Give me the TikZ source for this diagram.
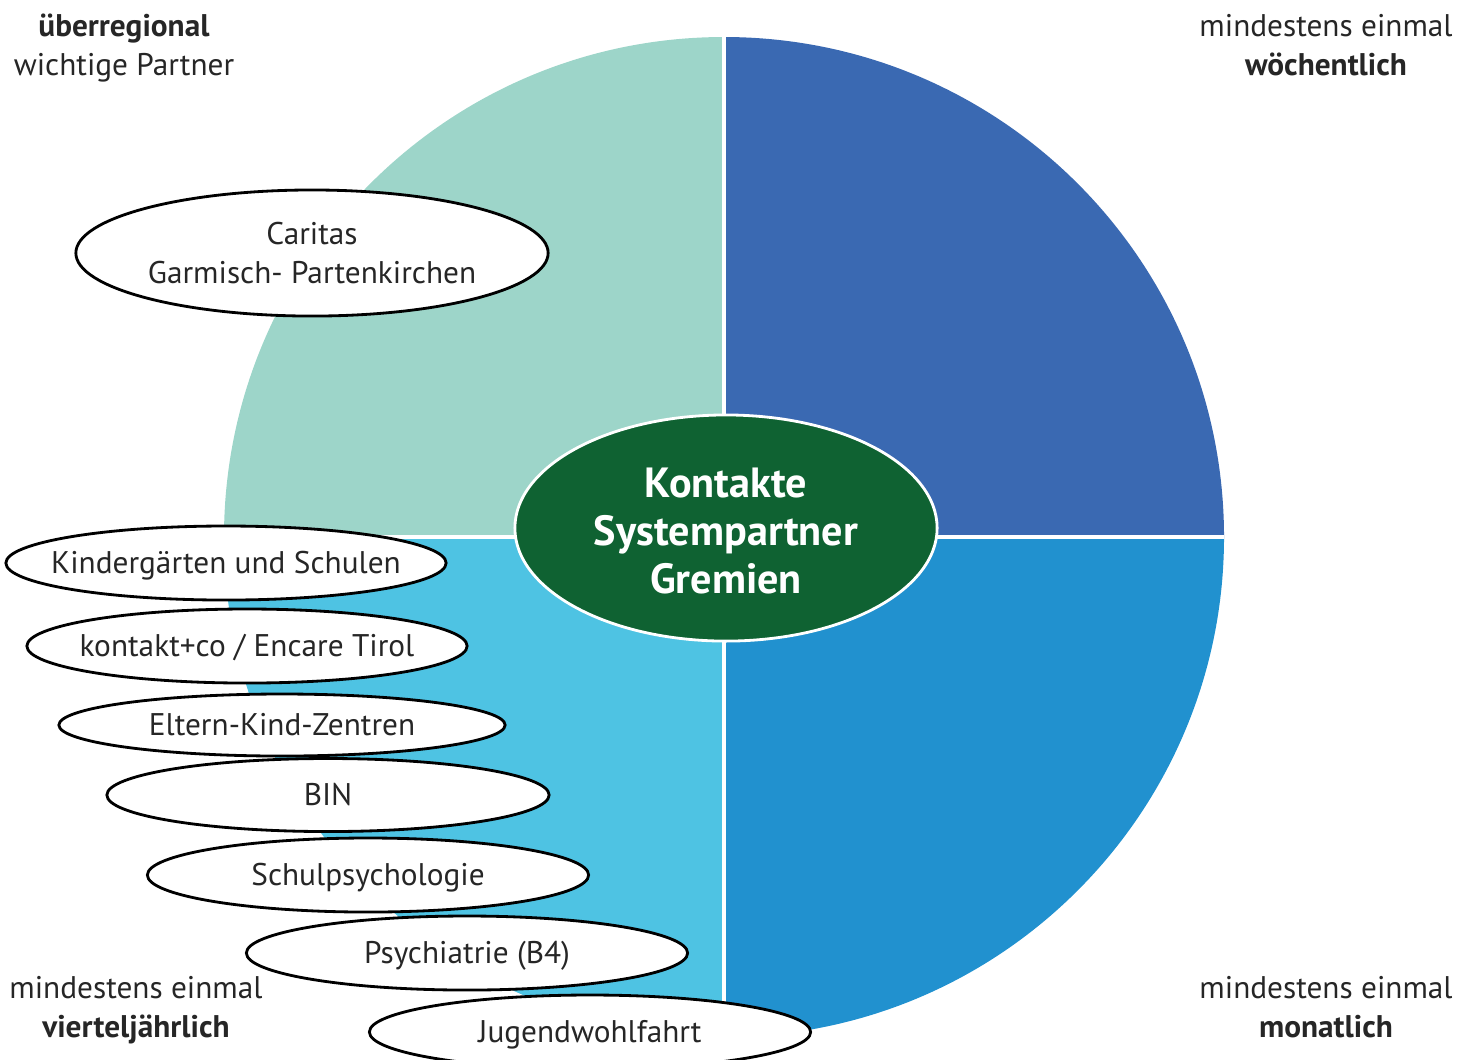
\documentclass[tikz,border=0pt]{standalone}
\usepackage{fontspec}
\setmainfont{PT Sans}
\usepackage{tikz}
\usetikzlibrary{shapes.geometric}
\definecolor{tealq}{HTML}{9DD5C9}
\definecolor{darkq}{HTML}{3A69B2}
\definecolor{midq}{HTML}{2191CF}
\definecolor{lightq}{HTML}{4EC3E3}
\definecolor{kerngreen}{HTML}{0F6232}
% zero width line, so the ellipse keeps its own size
\newcommand{\zl}[1]{\makebox[0pt]{#1}}
\newcommand{\zd}[1]{\makebox[0pt]{\raisebox{-0.105cm}[0pt][0pt]{#1}}}
\newcommand{\zk}[1]{\makebox[0pt]{\raisebox{-0.175cm}[0pt][0pt]{#1}}}
\tikzset{
    %Define style for the partner ellipses
    partner/.style={
           ellipse,
           draw=black, line width=0.8pt,
           fill=white,
           inner sep=0pt,
           minimum width=4.41cm,
           minimum height=0.74cm,
           font=\fontsize{8.9pt}{11.1pt}\selectfont,
           text=black!85,
           align=center},
    %Define style for the centre
    kern/.style={
           ellipse,
           draw=white, line width=0.8pt,
           fill=kerngreen,
           inner sep=0pt,
           minimum width=4.22cm,
           minimum height=2.26cm,
           font=\fontsize{12pt}{13.7pt}\selectfont\bfseries,
           text=white,
           align=center},
    %Define style for corner labels
    corner/.style={
           font=\fontsize{8.9pt}{11.1pt}\selectfont,
           text=black!85,
           align=center},
    % Define separator style
    sep/.style={
           white,
           line width=1pt}
}
\begin{document}
\begin{tikzpicture}[x=0.01cm,y=0.01cm]
\useasboundingbox (0,0) rectangle (1471,-1059);
\clip (0,0) rectangle (1471,-1059);
\coordinate (c) at (724,-537);
 %quadrants
\fill[tealq] (c) -- ++(180:500) arc (180:90:500) -- cycle;
\fill[darkq] (c) -- ++(90:500) arc (90:0:500) -- cycle;
\fill[midq] (c) -- ++(0:500) arc (0:-90:500) -- cycle;
\fill[lightq] (c) -- ++(-90:500) arc (-90:-180:500) -- cycle;
\coordinate (l) at (224,-537);
\coordinate (r) at (1224,-537);
\coordinate (t) at (724,-37);
\coordinate (b) at (724,-1037);
\draw[sep] (l) -- (r);
\draw[sep] (t) -- (b);

 %nodes
\node[kern] (kern) at (726,-528) {\zk{Kontakte}\\\zk{Systempartner}\\\zk{Gremien}};
\node[partner, minimum width=4.72cm, minimum height=1.26cm] (caritas) at (312,-253) {\zl{Caritas}\\\zl{Garmisch- Partenkirchen}};
\node[partner, minimum width=4.40cm] (kiga) at (226,-563) {\zd{Kindergärten und Schulen}};
\node[partner, minimum width=4.40cm] (kontakt) at (247,-646) {\zd{kontakt+co / Encare Tirol}};
\node[partner, minimum width=4.46cm, minimum height=0.62cm] (ekiz) at (282,-725) {\zd{Eltern-Kind-Zentren}};
\node[partner, minimum width=4.42cm, minimum height=0.73cm] (bin) at (328,-795) {\zd{BIN}};
\node[partner] (schulpsy) at (368,-875) {\zd{Schulpsychologie}};
\node[partner] (psych) at (467,-953) {\zd{Psychiatrie (B4)}};
\node[partner] (jugend) at (590,-1032) {\zd{Jugendwohlfahrt}};

 %corner labels
\node[corner] (ueber) at (124,-48) {\textbf{überregional}\\wichtige Partner};
\node[corner] (woche) at (1326,-45) {mindestens einmal\\\textbf{wöchentlich}};
\node[corner] (viertel) at (136,-1010) {mindestens einmal\\\textbf{vierteljährlich}};
\node[corner] (monat) at (1326,-1007) {mindestens einmal\\\textbf{monatlich}};
\end{tikzpicture}
\end{document}
